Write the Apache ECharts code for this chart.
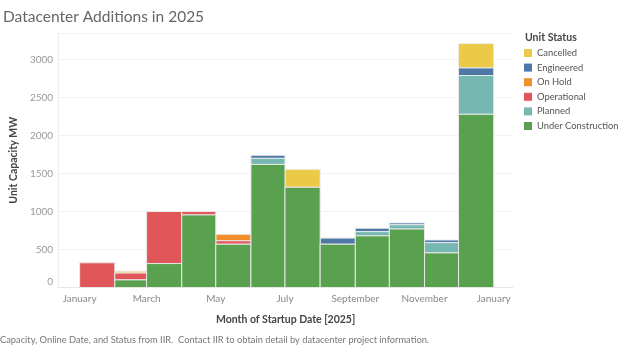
<!DOCTYPE html>
<html>
<head>
<meta charset="utf-8">
<script src="https://cdn.jsdelivr.net/npm/echarts@6/dist/echarts.min.js"></script>
<style>
  html, body { margin: 0; padding: 0; background: #fff; }
  #chart { width: 624px; height: 346px; }
</style>
</head>
<body>
<div id="chart"></div>
<script>
// Monthly datacenter capacity additions (MW) by unit status, Jan–Dec 2025
const monthNames = ['January','February','March','April','May','June','July','August','September','October','November','December'];
const statuses = ['Cancelled','Engineered','On Hold','Operational','Planned','Under Construction'];
const colors = {
  'Cancelled': '#EDC948',
  'Engineered': '#4E79A7',
  'On Hold': '#F28E2B',
  'Operational': '#E15759',
  'Planned': '#76B7B2',
  'Under Construction': '#59A14F'
};

const underConstruction = [0, 100, 315, 955, 570, 1620, 1320, 570, 680, 770, 455, 2280];
const planned           = [0, 0, 0, 0, 0, 80, 0, 0, 55, 55, 135, 510];
const operational       = [325, 90, 685, 45, 45, 0, 0, 0, 0, 0, 0, 0];
const onHold            = [0, 0, 0, 0, 85, 0, 0, 0, 0, 0, 0, 0];
const engineered        = [0, 0, 0, 0, 0, 40, 0, 80, 45, 25, 35, 100];
const cancelled         = [0, 25, 0, 0, 0, 0, 235, 0, 0, 0, 0, 320];

const yTicks = [0, 500, 1000, 1500, 2000, 2500, 3000];
const xLabelMonths = [[2025, 0], [2025, 2], [2025, 4], [2025, 6], [2025, 8], [2025, 10], [2026, 0]];

// stacking order from the baseline upward
const stackOrder = [
  ['Under Construction', underConstruction],
  ['Planned', planned],
  ['Operational', operational],
  ['On Hold', onHold],
  ['Engineered', engineered],
  ['Cancelled', cancelled]
];

const FONT = 'Lato, "Noto Sans", sans-serif';

// x positions are UTC timestamps on a linear value axis; each bar spans its month
const base = new Array(12).fill(0);
const seriesByName = {};
stackOrder.forEach(([name, values]) => {
  const data = [];
  values.forEach((v, m) => {
    if (v > 0) {
      const start = Date.UTC(2025, m, 1);
      const end = Date.UTC(2025, m + 1, 1);
      data.push([start, end, base[m], base[m] + v]);
      base[m] += v;
    }
  });
  seriesByName[name] = {
    name: name,
    type: 'custom',
    itemStyle: { color: colors[name] },
    encode: { x: [0, 1], y: [2, 3] },
    data: data,
    renderItem: function (params, api) {
      const p0 = api.coord([api.value(0), api.value(3)]);
      const p1 = api.coord([api.value(1), api.value(2)]);
      return {
        type: 'rect',
        shape: { x: p0[0], y: p0[1], width: p1[0] - p0[0], height: p1[1] - p0[1] },
        style: {
          fill: colors[name],
          stroke: 'rgba(235,235,235,0.95)',
          lineWidth: 1
        }
      };
    }
  };
});

const chart = echarts.init(document.getElementById('chart'), null, { renderer: 'canvas' });
chart.setOption({
  animation: false,
  textStyle: { fontFamily: FONT },
  title: [
    {
      text: 'Datacenter Additions in 2025',
      left: -2, top: 4,
      textStyle: { fontSize: 15.5, fontWeight: 'normal', color: '#666', fontFamily: FONT }
    },
    {
      text: 'Capacity, Online Date, and Status from IIR.  Contact IIR to obtain detail by datacenter project information.',
      left: -5, top: 330,
      textStyle: { fontSize: 9.3, fontWeight: 'normal', color: '#777', fontFamily: FONT }
    }
  ],
  legend: {
    orient: 'vertical',
    left: 524, top: 47,
    padding: 0,
    itemWidth: 8, itemHeight: 8,
    itemGap: 2.6,
    icon: 'rect',
    data: statuses,
    textStyle: { fontSize: 9.4, color: '#555', lineHeight: 12, fontFamily: FONT, width: 95, overflow: 'none' }
  },
  graphic: [{
    type: 'text',
    left: 525, top: 32,
    style: { text: 'Unit Status', fontSize: 10.5, fontWeight: 'bold', fill: '#444', fontFamily: FONT }
  }],
  grid: { left: 47, right: 111, top: 33, bottom: 58.5 },
  xAxis: {
    type: 'value',
    min: Date.UTC(2024, 11, 13),
    max: Date.UTC(2026, 0, 18),
    name: 'Month of Startup Date [2025]',
    nameLocation: 'middle',
    nameGap: 27,
    nameTextStyle: { fontSize: 10.5, fontWeight: 'bold', color: '#444', fontFamily: FONT },
    axisLine: { show: true, lineStyle: { color: '#e6e6e6' } },
    axisTick: { show: false },
    splitLine: { show: false },
    axisLabel: {
      customValues: xLabelMonths.map(([y, m]) => Date.UTC(y, m, 1)),
      formatter: v => monthNames[new Date(v).getUTCMonth()],
      fontSize: 10, color: '#888', margin: 6, fontFamily: FONT
    }
  },
  yAxis: {
    type: 'value',
    min: 0, max: 3350, interval: 500,
    name: 'Unit Capacity MW',
    nameLocation: 'middle',
    nameGap: 37,
    nameTextStyle: { fontSize: 10.5, fontWeight: 'bold', color: '#444', fontFamily: FONT },
    axisLine: { show: true, lineStyle: { color: '#eeeeee' } },
    axisTick: { show: false },
    splitLine: { lineStyle: { color: '#f2f2f2' } },
    axisLabel: {
      customValues: yTicks,
      formatter: v => v === 0 ? '{z|0}' : String(v),
      rich: { z: { padding: [0, 0, 11, 0], fontSize: 10, color: '#999' } },
      fontSize: 10, color: '#999', margin: 5, fontFamily: FONT
    }
  },
  series: statuses.map(n => seriesByName[n])
});
</script>
</body>
</html>
